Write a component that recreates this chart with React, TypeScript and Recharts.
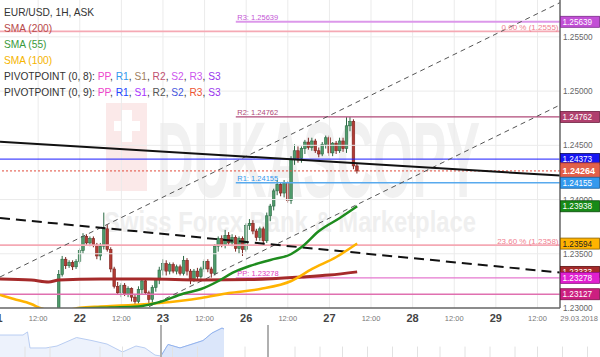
import React from 'react';
import {
  Area,
  AreaChart,
  Bar,
  ComposedChart,
  Line,
  ReferenceLine,
  XAxis,
  YAxis,
} from 'recharts';

const FONT = '"Liberation Sans", Arial, sans-serif';

// hour index = hours since 21.03.2018 00:00 (weekend hours are left out)
const firstCandleHour = 18;

const opens = [
  1.2272, 1.2331, 1.2345, 1.2339, 1.2342, 1.2338, 1.2343, 1.2353, 1.2366, 1.2360,
  1.2364, 1.2358, 1.2348, 1.2357, 1.2373, 1.2354, 1.2336, 1.2320, 1.2314, 1.2321,
  1.2313, 1.2318, 1.2310, 1.2306, 1.2317, 1.2325, 1.2314, 1.2308, 1.2319, 1.2326,
  1.2335, 1.2341, 1.2334, 1.2340, 1.2334, 1.2338, 1.2332, 1.2344, 1.2334, 1.2327,
  1.2334, 1.2329, 1.2336, 1.2343, 1.2336, 1.2332, 1.2357, 1.2364, 1.2358, 1.2367,
  1.2360, 1.2365, 1.2355, 1.2364, 1.2354, 1.2376, 1.2378, 1.2371, 1.2365, 1.2373,
  1.2362, 1.2385, 1.2394, 1.2408, 1.2414, 1.2406, 1.2415, 1.2399, 1.2437, 1.2445,
  1.2438, 1.2447, 1.2453, 1.2448, 1.2454, 1.2445, 1.2442, 1.2451, 1.2457, 1.2443,
  1.2452, 1.2445, 1.2454, 1.2447, 1.2468, 1.2472, 1.2431,
];
const highs = [
  1.2335, 1.2348, 1.2347, 1.2344, 1.2344, 1.2345, 1.2355, 1.2369, 1.2368, 1.2366,
  1.2366, 1.2360, 1.2360, 1.2388, 1.2377, 1.2356, 1.2338, 1.2324, 1.2323, 1.2323,
  1.2320, 1.2319, 1.2313, 1.2320, 1.2327, 1.2327, 1.2316, 1.2321, 1.2327, 1.2338,
  1.2345, 1.2344, 1.2342, 1.2342, 1.2340, 1.2340, 1.2348, 1.2346, 1.2336, 1.2336,
  1.2337, 1.2338, 1.2345, 1.2345, 1.2338, 1.2359, 1.2366, 1.2367, 1.2372, 1.2370,
  1.2368, 1.2367, 1.2366, 1.2366, 1.2378, 1.2382, 1.2381, 1.2373, 1.2375, 1.2375,
  1.2388, 1.2396, 1.2410, 1.2418, 1.2416, 1.2418, 1.2417, 1.2440, 1.2451, 1.2449,
  1.2449, 1.2455, 1.2457, 1.2457, 1.2456, 1.2448, 1.2453, 1.2459, 1.2459, 1.2453,
  1.2454, 1.2457, 1.2457, 1.2476, 1.2476, 1.2474, 1.2433,
];
const lows = [
  1.2268, 1.2329, 1.2336, 1.2337, 1.2335, 1.2336, 1.2341, 1.2350, 1.2358, 1.2357,
  1.2356, 1.2345, 1.2344, 1.2354, 1.2352, 1.2333, 1.2318, 1.2312, 1.2310, 1.2311,
  1.2310, 1.2306, 1.2303, 1.2304, 1.2313, 1.2312, 1.2303, 1.2305, 1.2315, 1.2322,
  1.2330, 1.2330, 1.2331, 1.2332, 1.2331, 1.2330, 1.2330, 1.2330, 1.2322, 1.2324,
  1.2326, 1.2327, 1.2333, 1.2333, 1.2328, 1.2330, 1.2352, 1.2356, 1.2355, 1.2358,
  1.2357, 1.2352, 1.2350, 1.2348, 1.2352, 1.2372, 1.2368, 1.2362, 1.2362, 1.2358,
  1.2360, 1.2380, 1.2390, 1.2404, 1.2403, 1.2402, 1.2397, 1.2396, 1.2432, 1.2434,
  1.2434, 1.2442, 1.2446, 1.2445, 1.2443, 1.2439, 1.2440, 1.2447, 1.2440, 1.2440,
  1.2442, 1.2443, 1.2444, 1.2443, 1.2463, 1.2428, 1.2424,
];
const closes = [
  1.2331, 1.2345, 1.2339, 1.2342, 1.2338, 1.2343, 1.2353, 1.2366, 1.2360, 1.2364,
  1.2358, 1.2348, 1.2357, 1.2373, 1.2354, 1.2336, 1.2320, 1.2314, 1.2321, 1.2313,
  1.2318, 1.2310, 1.2306, 1.2317, 1.2325, 1.2314, 1.2308, 1.2319, 1.2326, 1.2335,
  1.2341, 1.2334, 1.2340, 1.2334, 1.2338, 1.2332, 1.2344, 1.2334, 1.2327, 1.2334,
  1.2329, 1.2336, 1.2343, 1.2336, 1.2332, 1.2357, 1.2364, 1.2358, 1.2367, 1.2360,
  1.2365, 1.2355, 1.2364, 1.2354, 1.2376, 1.2378, 1.2371, 1.2365, 1.2373, 1.2362,
  1.2385, 1.2394, 1.2408, 1.2414, 1.2406, 1.2415, 1.2399, 1.2437, 1.2445, 1.2438,
  1.2447, 1.2453, 1.2448, 1.2454, 1.2445, 1.2442, 1.2451, 1.2457, 1.2443, 1.2452,
  1.2445, 1.2454, 1.2447, 1.2468, 1.2472, 1.2431, 1.24264,
];

// moving averages, read at a few hours
const sma200Hours = [1, 10, 15, 18, 30, 44, 59, 73, 88, 96, 104];
const sma200Values = [1.23267, 1.23258, 1.2324, 1.23258, 1.23267, 1.23267, 1.23258, 1.23262, 1.23286, 1.23304, 1.23333];
const sma55Hours = [1, 10, 18, 24, 33, 41, 47, 54, 59, 64, 68, 73, 79, 85, 88, 93, 99, 104];
const sma55Values = [1.228, 1.2288, 1.2294, 1.22995, 1.23005, 1.23014, 1.23055, 1.23134, 1.23175, 1.23249, 1.23323, 1.23387, 1.23443, 1.23498, 1.23562, 1.2371, 1.2383, 1.23938];
const sma100Hours = [1, 5, 10, 13, 18, 24, 30, 39, 47, 59, 67, 76, 85, 91, 98, 104];
const sma100Values = [1.2312, 1.23083, 1.23037, 1.22995, 1.2297, 1.23002, 1.23014, 1.23028, 1.23046, 1.23092, 1.23138, 1.23175, 1.23249, 1.2336, 1.2347, 1.23594];

// drawn trend lines
const trendHours = [1, 162.5];
const resistanceValues = [1.24533, 1.24221];
const dashedSupportValues = [1.2383, 1.23327];
const channelTopValues = [1.23286, 1.25816];
const channelLowHours = [30, 162.5];
const channelLowValues = [1.22793, 1.24872];

// pivot levels (start of the week) and other horizontal levels
const pivotStartHour = 69;
const pivotLevels = [1.25639, 1.24762, 1.24155, 1.23278];
const pivotNames = ['R3', 'R2', 'R1', 'PP'];
const pivotLineColors = ['#dc98ea', '#b04a78', '#58aaee', '#e578cf'];
const pivotTextColors = ['#c455d6', '#b04a78', '#3399ee', '#e040c0'];
const fibLevels = [1.2555, 1.2358];
const fibNames = ['0.00 %', '23.60 %'];
const blueLevel = 1.24373;
const lastPrice = 1.24264;
const lowPivotLevel = 1.23127;

const priceTicks = [1.255, 1.25, 1.245, 1.24, 1.235, 1.23];
const boxValues = [1.25639, 1.24762, 1.24373, 1.24264, 1.24155, 1.23938, 1.23594, 1.23333, 1.23278, 1.23127];
const boxFills = ['#c24fd6', '#b0406e', '#1616f2', '#e2604a', '#3399ee', '#178a17', '#ffb300', '#a52a2a', '#e01fd0', '#cc1f80'];
const boxEdges = ['#7a2a8a', '#6e2040', '#05055a', '#b03a28', '#1a5f9a', '#0a4a0a', '#8a6000', '#5a1010', '#8a1080', '#7a1048'];
const boxTextColors = ['#fff', '#fff', '#fff', '#fff', '#fff', '#fff', '#222', '#fff', '#fff', '#fff'];

const tickHours = [0, 12, 24, 36, 48, 60, 72, 84, 96, 108, 120, 132, 144, 156, 168];
const tickLabels = ['21', '12:00', '22', '12:00', '23', '12:00', '26', '12:00', '27', '12:00', '28', '12:00', '29', '12:00', '29.03.2018'];

// navigator (overview) strip
const navHours = [0, 9.2, 11, 12, 18.4, 22.8, 30.6, 36.8, 42.8, 49, 54.4, 58, 62, 64.4, 67.2, 72, 76.4, 81.2, 84.8, 88.8, 89.6];
const navValues = [1.2408, 1.2408, 1.243, 1.2315, 1.2315, 1.2329, 1.239, 1.2368, 1.2343, 1.2286, 1.2329, 1.2315, 1.2264, 1.2257, 1.234, 1.2315, 1.234, 1.2368, 1.2422, 1.2458, 1.2451];
const navWindowStart = 64.4;
const navMarkers = [64.4, 107.2];
const navTicks = [10, 20, 40, 49, 69, 79, 98, 118, 128, 137, 147, 157, 167, 176, 186, 196, 206, 215, 225, 235];

const legendPivot8 = [['PP', '#ee44cc'], ['R1', '#3399ee'], ['S1', '#a08060'], ['R2', '#c05070'], ['S2', '#cc55ee'], ['R3', '#cc55ee'], ['S3', '#9933ee']];
const legendPivot9 = [['PP', '#ee44cc'], ['R1', '#2244ff'], ['S1', '#aa33ff'], ['R2', '#555555'], ['S2', '#4455dd'], ['R3', '#ee5533'], ['S3', '#9933ee']];

const candles = opens.map((o, k) => ({
  i: firstCandleHour + k,
  open: o,
  high: highs[k],
  low: lows[k],
  close: closes[k],
  range: [lows[k], highs[k]],
}));

const toSeries = (hours: number[], values: number[]) =>
  hours.map((i, k) => ({ i, v: values[k] }));

const sma200 = toSeries(sma200Hours, sma200Values);
const sma55 = toSeries(sma55Hours, sma55Values);
const sma100 = toSeries(sma100Hours, sma100Values);
const resistance = toSeries(trendHours, resistanceValues);
const dashedSupport = toSeries(trendHours, dashedSupportValues);
const channelTop = toSeries(trendHours, channelTopValues);
const channelLow = toSeries(channelLowHours, channelLowValues);

const navData = navHours.map((h, k) => ({
  h,
  all: navValues[k],
  win: h >= navWindowStart ? navValues[k] : null,
}));

function Candle(props: any) {
  const { x, y, width, height, payload } = props;
  if (x == null || y == null || !payload) return null;
  const top = Math.min(y, y + height);
  const h = Math.abs(height);
  const span = payload.high - payload.low;
  const perUnit = span > 0 ? h / span : 0;
  const at = (v: number) => top + (payload.high - v) * perUnit;
  const up = payload.close >= payload.open;
  const bodyTop = at(Math.max(payload.open, payload.close));
  const bodyH = Math.max(1, at(Math.min(payload.open, payload.close)) - bodyTop);
  const cx = x + width / 2;
  const fill = up ? '#4f9b6b' : '#b23c34';
  const edge = up ? '#2c6a45' : '#7d241f';
  return (
    <g>
      <line x1={cx} x2={cx} y1={top} y2={top + h} stroke={edge} strokeWidth={1} />
      <rect x={cx - 1.3} y={bodyTop} width={2.6} height={bodyH} fill={fill} stroke={edge} strokeWidth={0.6} />
    </g>
  );
}

function HourTick(props: any) {
  const { x, y, payload } = props;
  const k = tickHours.indexOf(payload.value);
  const label = k >= 0 ? tickLabels[k] : '';
  const isDay = label.length === 2;
  return (
    <text
      x={x}
      y={y + (isDay ? 14 : 13)}
      textAnchor="middle"
      fontFamily={FONT}
      fontSize={isDay ? 11 : 7.5}
      fontWeight={isDay ? 'bold' : 'normal'}
      fill={isDay ? '#444' : '#777'}
    >
      {label}
    </text>
  );
}

function PriceTick(props: any) {
  const { x, y, payload } = props;
  const v = payload.value as number;
  const k = boxValues.findIndex((b) => Math.abs(b - v) < 1e-7);
  if (k < 0) {
    return (
      <text x={x + 3} y={y + 3} fontFamily={FONT} fontSize={8.2} fill="#666">
        {v.toFixed(5)}
      </text>
    );
  }
  const current = boxValues[k] === lastPrice;
  const h = current ? 16 : 11;
  return (
    <g>
      <rect x={x + 0.5} y={y - h / 2} width={39} height={h} fill={boxFills[k]} stroke={boxEdges[k]} strokeWidth={0.8} />
      <text
        x={x + 2.5}
        y={y + (current ? 3.5 : 3)}
        fontFamily={FONT}
        fontSize={current ? 9 : 8.2}
        fontWeight={current ? 'bold' : 'normal'}
        fill={boxTextColors[k]}
      >
        {v.toFixed(5)}
      </text>
    </g>
  );
}

function Watermark() {
  return (
    <svg width={600} height={308} style={{ position: 'absolute', left: 0, top: 0 }}>
      <rect x={106} y={103} width={41} height={88} fill="#fbe9e9" />
      <rect x={114} y={121} width={26} height={10} fill="#fff" />
      <rect x={122} y={110} width={10} height={32} fill="#fff" />
      <text x={157} y={197} fontFamily={FONT} fontWeight="bold" fontSize={107} fill="#f1f1f1" textLength={323} lengthAdjust="spacingAndGlyphs">
        DUKASCOPY
      </text>
      <text x={104} y={232} fontFamily={FONT} fontWeight="bold" fontSize={30} fill="#efefef" textLength={372} lengthAdjust="spacingAndGlyphs">
        Swiss Forex Bank &amp; Marketplace
      </text>
    </svg>
  );
}

function ChartLegend() {
  const pivotRow = (label: string, items: string[][]) => (
    <div>
      {label}
      {items.map(([name, color], k) => (
        <span key={name}>
          <span style={{ color }}>{name}</span>
          {k < items.length - 1 ? ', ' : ''}
        </span>
      ))}
    </div>
  );
  return (
    <div
      style={{
        position: 'absolute',
        left: 4,
        top: 5,
        fontFamily: FONT,
        fontSize: 10.2,
        lineHeight: '16px',
        color: '#333',
        whiteSpace: 'nowrap',
      }}
    >
      <div>EUR/USD, 1H, ASK</div>
      <div style={{ color: '#b84a4a' }}>SMA (200)</div>
      <div style={{ color: '#3a9a3a' }}>SMA (55)</div>
      <div style={{ color: '#f5b400' }}>SMA (100)</div>
      {pivotRow('PIVOTPOINT (0, 8): ', legendPivot8)}
      {pivotRow('PIVOTPOINT (0, 9): ', legendPivot9)}
    </div>
  );
}

export default function App() {
  const gridHours = tickHours.filter((h) => h > 1 && h < 162.5);
  const gridPrices = priceTicks.filter((p) => p > 1.2301);
  return (
    <div
      style={{
        position: 'absolute',
        left: 0,
        top: 0,
        width: 600,
        height: 357,
        background: '#fff',
        overflow: 'hidden',
        fontFamily: FONT,
      }}
    >
      <Watermark />
      <div style={{ position: 'absolute', left: 0, top: 0 }}>
        <ComposedChart width={600} height={325} data={candles} margin={{ top: 0, right: 0, bottom: 0, left: 0 }}>
          <XAxis
            dataKey="i"
            type="number"
            domain={[1, 162.5]}
            allowDataOverflow
            ticks={tickHours}
            interval={0}
            tick={(p: any) => <HourTick {...p} />}
            tickLine={false}
            tickSize={0}
            tickMargin={0}
            height={17}
            axisLine={{ stroke: '#666', strokeWidth: 1.5 }}
          />
          <YAxis
            orientation="right"
            type="number"
            domain={[1.23, 1.2584]}
            allowDataOverflow
            ticks={[...priceTicks, ...boxValues]}
            interval={0}
            tick={(p: any) => <PriceTick {...p} />}
            tickLine={false}
            tickSize={0}
            tickMargin={0}
            width={40}
            axisLine={{ stroke: '#666', strokeWidth: 1.5 }}
          />

          {gridHours.map((h) => (
            <ReferenceLine key={`gx${h}`} x={h} stroke="#ebebeb" strokeWidth={1} />
          ))}
          {gridPrices.map((p) => (
            <ReferenceLine key={`gy${p}`} y={p} stroke="#ebebeb" strokeWidth={1} />
          ))}

          {fibLevels.map((p, k) => (
            <ReferenceLine
              key={`fib${k}`}
              y={p}
              stroke="#f5a9b4"
              strokeWidth={1.8}
              label={{
                value: `${fibNames[k]} (${p.toFixed(4)})`,
                position: 'insideBottomRight',
                offset: 1.5,
                fill: '#f08090',
                fontSize: 8,
                fontFamily: FONT,
              }}
            />
          ))}
          <ReferenceLine y={lowPivotLevel} stroke="#e070b0" strokeWidth={1.5} />
          <ReferenceLine y={blueLevel} stroke="#1a1aff" strokeWidth={1} />
          <ReferenceLine y={lastPrice} stroke="#e04a3a" strokeWidth={1} strokeDasharray="2 2" />
          {pivotLevels.map((p, k) => (
            <ReferenceLine
              key={`pv${k}`}
              segment={[{ x: pivotStartHour, y: p }, { x: 162.5, y: p }]}
              stroke={pivotLineColors[k]}
              strokeWidth={k === 0 ? 2 : 1.4}
              label={{
                value: `${pivotNames[k]}: ${p.toFixed(5)}`,
                position: 'insideBottomLeft',
                offset: 1.5,
                fill: pivotTextColors[k],
                fontSize: 7.5,
                fontFamily: FONT,
              }}
            />
          ))}

          <Line data={channelTop} dataKey="v" type="linear" stroke="#555" strokeWidth={1} strokeDasharray="5 4" dot={false} isAnimationActive={false} />
          <Line data={channelLow} dataKey="v" type="linear" stroke="#555" strokeWidth={1} strokeDasharray="5 4" dot={false} isAnimationActive={false} />
          <Line data={dashedSupport} dataKey="v" type="linear" stroke="#111" strokeWidth={2} strokeDasharray="10 6" dot={false} isAnimationActive={false} />
          <Line data={resistance} dataKey="v" type="linear" stroke="#111" strokeWidth={2} dot={false} isAnimationActive={false} />

          <Line data={sma200} dataKey="v" type="monotone" stroke="#a52a2a" strokeWidth={3} dot={false} isAnimationActive={false} />
          <Line data={sma100} dataKey="v" type="monotone" stroke="#ffb300" strokeWidth={2.5} dot={false} isAnimationActive={false} />
          <Line data={sma55} dataKey="v" type="monotone" stroke="#1e8c1e" strokeWidth={2.5} dot={false} isAnimationActive={false} />

          <Bar dataKey="range" barSize={3} shape={(p: any) => <Candle {...p} />} isAnimationActive={false} />
        </ComposedChart>
      </div>
      <ChartLegend />
      <div style={{ position: 'absolute', left: 0, top: 325 }}>
        <AreaChart width={600} height={32} data={navData} margin={{ top: 0, right: 0, bottom: 0, left: 0 }}>
          <XAxis dataKey="h" type="number" domain={[0, 240]} hide />
          <YAxis type="number" domain={[1.225, 1.248]} hide />
          {navTicks.map((h) => (
            <ReferenceLine key={`nt${h}`} segment={[{ x: h, y: 1.225 }, { x: h, y: 1.2325 }]} stroke="#e2e2e2" />
          ))}
          <Area dataKey="all" type="linear" stroke="#b9cdf2" strokeWidth={1} fill="#edf2fc" fillOpacity={1} isAnimationActive={false} />
          <Area dataKey="win" type="linear" stroke="#93b3ee" strokeWidth={1} fill="#dbe6fa" fillOpacity={1} isAnimationActive={false} />
          {navMarkers.map((h) => (
            <ReferenceLine key={`nm${h}`} x={h} stroke="#b0b0b0" strokeWidth={2} />
          ))}
        </AreaChart>
      </div>
    </div>
  );
}
